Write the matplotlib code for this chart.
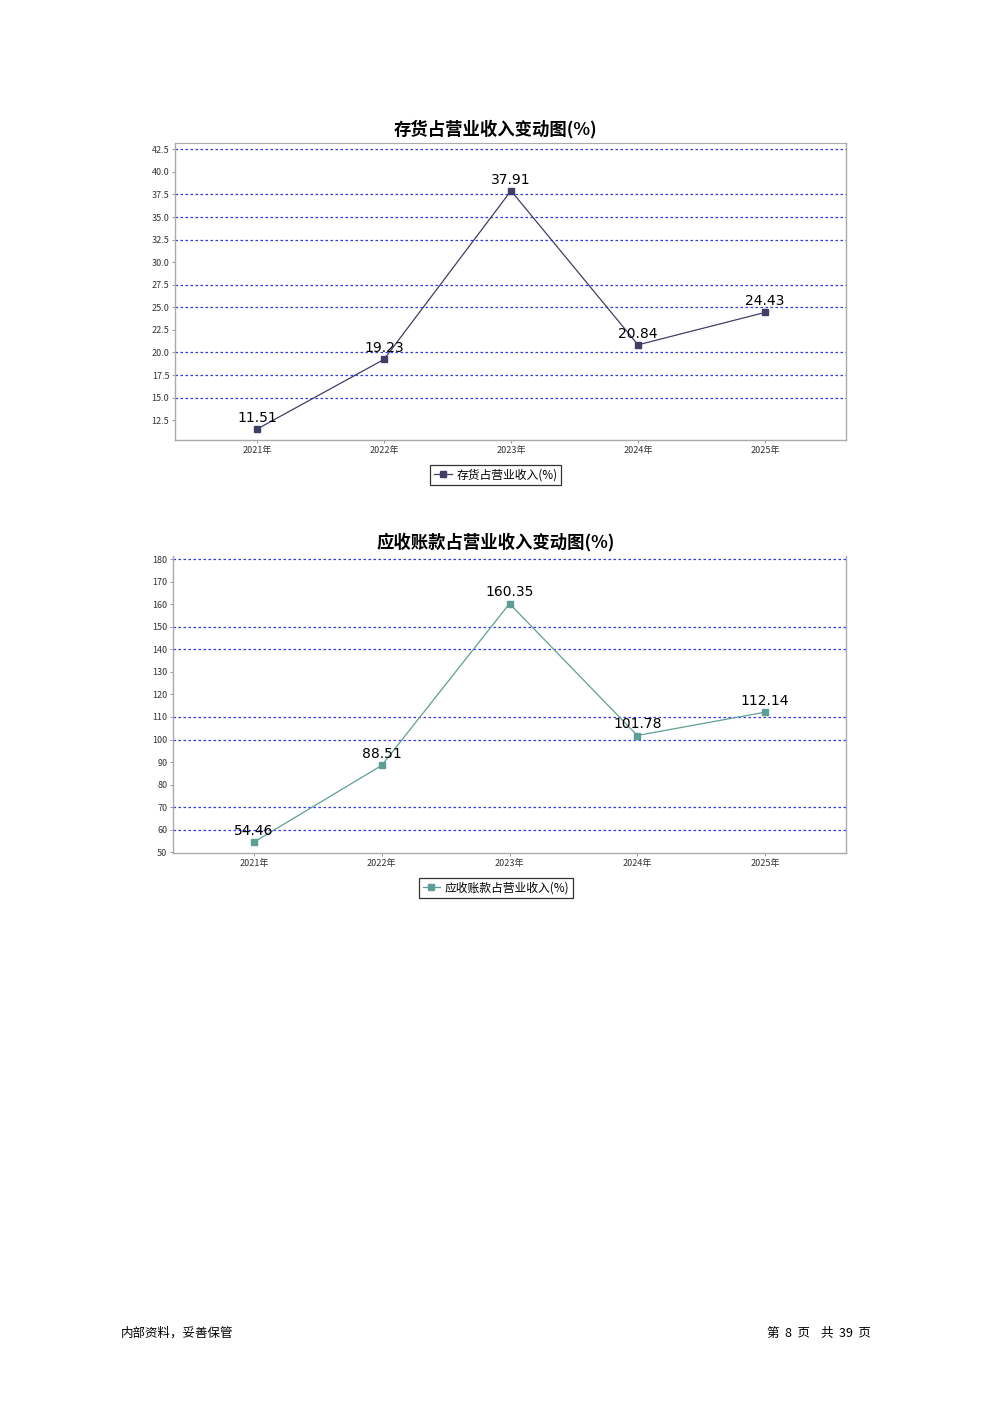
import numpy as np
import matplotlib.pyplot as plt

plt.rcParams['font.family'] = ['Noto Sans CJK SC', 'DejaVu Sans']

years = ['2021年', '2022年', '2023年', '2024年', '2025年']

inv_vals = [11.51, 19.23, 37.91, 20.84, 24.43]
inv_ticks = [12.5, 15.0, 17.5, 20.0, 22.5, 25.0, 27.5, 30.0, 32.5, 35.0, 37.5, 40.0, 42.5]
inv_grid = [15.0, 17.5, 20.0, 25.0, 27.5, 32.5, 35.0, 37.5, 42.5]

ar_vals = [54.46, 88.51, 160.35, 101.78, 112.14]
ar_ticks = [50, 60, 70, 80, 90, 100, 110, 120, 130, 140, 150, 160, 170, 180]
ar_grid = [60, 70, 100, 110, 140, 150, 180]

W, H = 992, 1403
fig = plt.figure(figsize=(W / 100, H / 100), dpi=100)


def px_axes(left, top, right, bottom):
    return fig.add_axes([left / W, 1 - bottom / H, (right - left) / W, (bottom - top) / H])


def draw_chart(ax, vals, ticks, grid, ylim, xlim, color, title, label, fmt, top_border, cx):
    x = np.arange(len(vals))
    for g in grid:
        ax.axhline(g, color='#3333ee', lw=0.9, ls=(0, (2, 2)), zorder=1)
    ax.plot(x, vals, color=color, lw=0.9, marker='s', ms=5, label=label, zorder=3)
    for xi, v in zip(x, vals):
        ax.annotate(f'{v:.2f}', (xi, v), xytext=(0, 3), textcoords='offset points',
                    ha='center', va='bottom', fontsize=10, color='black',
                    fontfamily='DejaVu Sans', zorder=4)
    ax.set_xlim(*xlim)
    ax.set_ylim(*ylim)
    ax.set_xticks(x)
    ax.set_xticklabels(years, fontsize=6.5, color='#333333')
    ax.set_yticks(ticks)
    ax.set_yticklabels([fmt.format(t) for t in ticks], fontsize=6.5, color='#333333')
    ax.tick_params(axis='both', length=2, width=0.6, color='#888888', pad=2)
    for s in ['left', 'bottom', 'right']:
        ax.spines[s].set_color('#aaaaaa')
        ax.spines[s].set_linewidth(1.0)
    ax.spines['top'].set_visible(top_border)
    ax.spines['top'].set_color('#aaaaaa')
    ax.set_title(title, fontsize=12.5, fontweight='bold', pad=6, x=cx)
    leg = ax.legend(loc='upper center', bbox_to_anchor=(cx, -0.064), fontsize=8.5,
                    frameon=True, fancybox=False, edgecolor='black', handlelength=1.5,
                    handletextpad=0.4, borderpad=0.3, markerscale=0.9)
    leg.get_frame().set_linewidth(0.9)


ax1 = px_axes(175, 143, 846, 440)
draw_chart(ax1, inv_vals, inv_ticks, inv_grid, (10.3, 43.2), (-0.646, 4.638),
           '#3f3f66', '存货占营业收入变动图(%)', '存货占营业收入(%)', '{:.1f}', True, 0.478)

ax2 = px_axes(173, 556, 846, 853)
draw_chart(ax2, ar_vals, ar_ticks, ar_grid, (49.6, 181.5), (-0.634, 4.634),
           '#5f9e96', '应收账款占营业收入变动图(%)', '应收账款占营业收入(%)', '{:d}', False, 0.48)

fig.text(121 / W, 1 - 1333 / H, '内部资料，妥善保管', fontsize=9, ha='left', va='center')
fig.text(871 / W, 1 - 1333 / H, '第  8  页    共  39  页', fontsize=9, ha='right', va='center')

fig.savefig('out.png', dpi=100)
